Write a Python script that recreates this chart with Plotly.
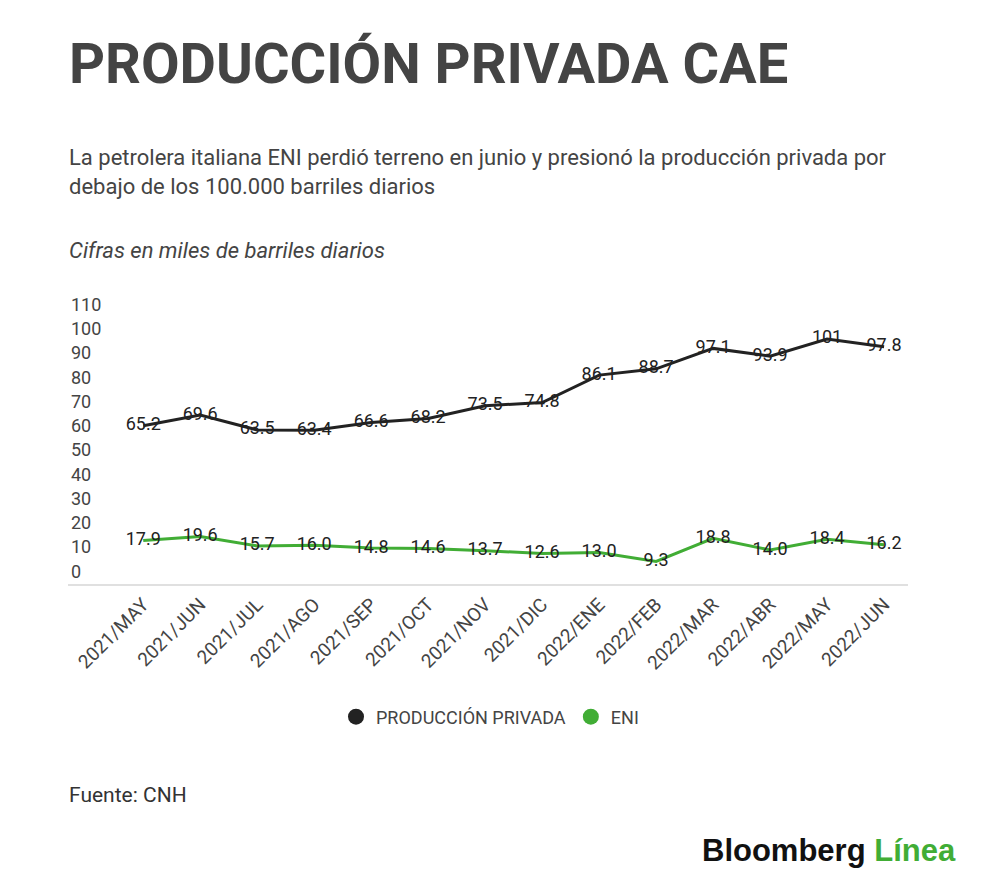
import plotly.graph_objects as go

categories = ["2021/MAY", "2021/JUN", "2021/JUL", "2021/AGO", "2021/SEP", "2021/OCT", "2021/NOV",
              "2021/DIC", "2022/ENE", "2022/FEB", "2022/MAR", "2022/ABR", "2022/MAY", "2022/JUN"]
privada = [65.2, 69.6, 63.5, 63.4, 66.6, 68.2, 73.5, 74.8, 86.1, 88.7, 97.1, 93.9, 101, 97.8]
eni = [17.9, 19.6, 15.7, 16.0, 14.8, 14.6, 13.7, 12.6, 13.0, 9.3, 18.8, 14.0, 18.4, 16.2]
privada_labels = ["65.2", "69.6", "63.5", "63.4", "66.6", "68.2", "73.5", "74.8", "86.1", "88.7",
                  "97.1", "93.9", "101", "97.8"]
eni_labels = ["17.9", "19.6", "15.7", "16.0", "14.8", "14.6", "13.7", "12.6", "13.0", "9.3",
              "18.8", "14.0", "18.4", "16.2"]
y_ticks = [0, 10, 20, 30, 40, 50, 60, 70, 80, 90, 100, 110]

BLACK = "#222222"
GREEN = "#41ad35"
TEXT = "#444444"
FONT = "Roboto"

# page body adds an 8px offset; figure coordinates = screen - 8
OFF = 8
PL, PR = 68 - OFF, 908 - OFF          # plot left/right in figure px
PT, PB = 288 - OFF, 584 - OFF         # plot top/bottom in figure px
PW, PH = PR - PL, PB - PT


def px(xs):
    return (xs - OFF - PL) / PW


def py(ys):
    return (PB - (ys - OFF)) / PH


x_idx = list(range(len(categories)))

fig = go.Figure()
fig.add_trace(go.Scatter(
    x=x_idx, y=privada, mode="lines+text", text=privada_labels, textposition="middle center",
    textfont=dict(family=FONT, size=18, color=BLACK),
    line=dict(color=BLACK, width=3), showlegend=False, hoverinfo="skip"))
fig.add_trace(go.Scatter(
    x=x_idx, y=eni, mode="lines+text", text=eni_labels, textposition="middle center",
    textfont=dict(family=FONT, size=18, color=BLACK),
    line=dict(color=GREEN, width=3), showlegend=False, hoverinfo="skip"))
# legend entries
fig.add_trace(go.Scatter(x=[None], y=[None], mode="markers", name="PRODUCCIÓN PRIVADA",
                         marker=dict(color=BLACK, size=22)))
fig.add_trace(go.Scatter(x=[None], y=[None], mode="markers", name="ENI",
                         marker=dict(color=GREEN, size=22)))

fig.update_layout(
    width=1000 - OFF, height=891 - OFF,
    paper_bgcolor="white", plot_bgcolor="white",
    margin=dict(l=PL, r=(1000 - OFF) - PR, t=PT, b=(891 - OFF) - PB, pad=0),
    font=dict(family=FONT, color=TEXT),
    showlegend=True,
    legend=dict(orientation="h", x=px(490), xanchor="center", y=py(717), yanchor="middle",
                font=dict(family=FONT, size=18, color=TEXT), itemsizing="trace"),
    xaxis=dict(range=[-1.32, 13.42], tickmode="array", tickvals=x_idx, ticktext=categories,
               tickangle=-45, tickfont=dict(family=FONT, size=19, color=TEXT),
               showgrid=False, zeroline=False, showline=True, linecolor="#e0e0e0", linewidth=2,
               ticks=""),
    yaxis=dict(range=[0, 122], tickmode="array", tickvals=y_ticks,
               ticklabelposition="inside top", tickfont=dict(family=FONT, size=18, color=TEXT),
               showgrid=False, zeroline=False, showline=False, ticks=""),
)

fig.add_annotation(xref="paper", yref="paper", x=px(67), y=py(64),
                   xanchor="left", yanchor="middle", showarrow=False,
                   text="<b>PRODUCCIÓN PRIVADA CAE</b>",
                   font=dict(family=FONT, size=56, color=TEXT))
fig.add_annotation(xref="paper", yref="paper", x=px(67), y=py(172),
                   xanchor="left", yanchor="middle", showarrow=False, align="left",
                   text="La petrolera italiana ENI perdió terreno en junio y presionó la producción privada por<br>debajo de los 100.000 barriles diarios",
                   font=dict(family=FONT, size=22, color=TEXT))
fig.add_annotation(xref="paper", yref="paper", x=px(67), y=py(250),
                   xanchor="left", yanchor="middle", showarrow=False,
                   text="<i>Cifras en miles de barriles diarios</i>",
                   font=dict(family=FONT, size=22, color=TEXT))
fig.add_annotation(xref="paper", yref="paper", x=px(67), y=py(795),
                   xanchor="left", yanchor="middle", showarrow=False,
                   text="Fuente: CNH",
                   font=dict(family=FONT, size=21, color="#333333"))
fig.add_annotation(xref="paper", yref="paper", x=px(958), y=py(850),
                   xanchor="right", yanchor="middle", showarrow=False,
                   text="<b>Bloomberg</b> <b><span style='color:#41ad35'>Línea</span></b>",
                   font=dict(family="Liberation Sans", size=31, color="#111111"))

fig.write_html("out.html")
